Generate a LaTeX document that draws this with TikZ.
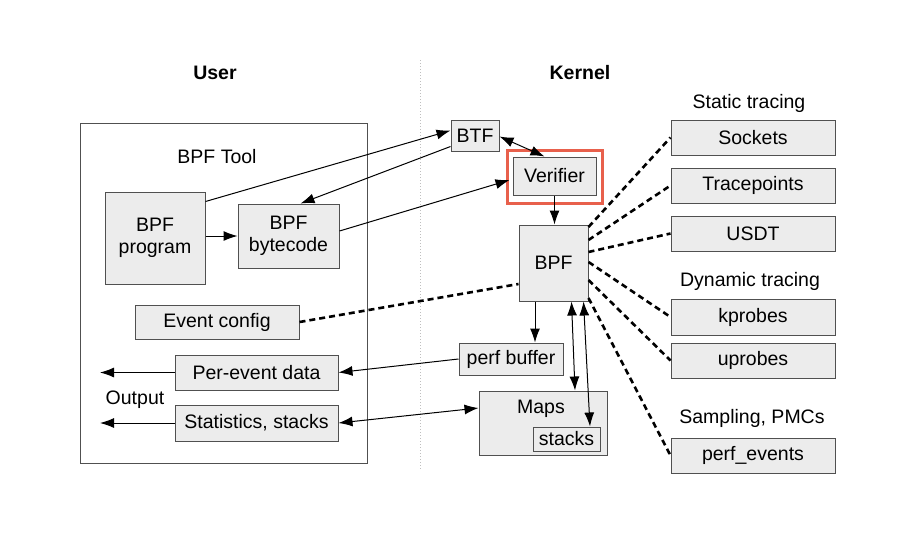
\documentclass[tikz,border=0pt]{standalone}
\usepackage{fontspec}
\setmainfont{Liberation Sans}
\usepackage{tikz}
\usetikzlibrary{arrows.meta}
\definecolor{boxgray}{HTML}{ECECEC}
\definecolor{edgegray}{HTML}{505050}
\definecolor{verired}{HTML}{E8604C}
\tikzstyle{boxed}=[draw=edgegray,fill=boxgray,line width=1pt,inner sep=0pt,align=center]
\tikzstyle{wh}=[minimum width=#1]
\tikzstyle{arr}=[-{Latex[length=14pt,width=10pt]},line width=1pt]
\tikzstyle{darr}=[{Latex[length=14pt,width=10pt]}-{Latex[length=14pt,width=10pt]},line width=1pt]
\tikzstyle{probe}=[dash pattern=on 6pt off 4pt,line width=2.6pt]
\newcommand{\bnode}{\node[boxed]}
\newcommand{\tnode}{\node}

\begin{document}
\begin{tikzpicture}[x=1pt,y=-1pt,font=\fontsize{19.5}{22}\selectfont]
        \useasboundingbox (0,0) rectangle (897,547);
        % user / kernel split
        \tnode[font=\fontsize{19.5}{22}\selectfont\bfseries] (user) at (215,73) {User};
        \tnode[font=\fontsize{19.5}{22}\selectfont\bfseries] (kern) at (580,73) {Kernel};
        \coordinate (div1) at (420,60);
        \coordinate (div2) at (420,470);
        \draw[gray!50,dotted,line width=1pt] (div1) -- (div2);
        \node[draw=edgegray,line width=1pt,minimum width=287pt,minimum height=340pt,inner sep=0pt] (tool) at (223.5,293) {};
        \tnode (tooll) at (217,157) {BPF Tool};
        % user side
        \bnode[wh=100pt,minimum height=92pt] (prog) at (155,238) {BPF\\program}; %
        \bnode[wh=101pt,minimum height=64pt] (bcode) at (288.5,236) {BPF\\bytecode}; %
        \bnode[wh=164pt,minimum height=34pt] (evcfg) at (217,322) {Event config}; %
        \bnode[wh=163pt,minimum height=35pt] (perev) at (256.5,372.5) {Per-event data};
        \bnode[wh=163pt,minimum height=36pt] (stats) at (256.5,423) {Statistics, stacks};
        \coordinate (out1) at (100,372.5);
        \coordinate (out2) at (100,423);
        \tnode (outl) at (135,400) {Output};
        % kernel side
        \bnode[wh=48pt,minimum height=31pt] (btf) at (475,135.5) {BTF};
        \node[draw=verired,line width=3pt,minimum width=95pt,minimum height=53pt,inner sep=0pt] (vbox) at (554.5,176.5) {};
        \bnode[wh=83pt,minimum height=38pt] (ver) at (554.5,176) {Verifier};
        \bnode[wh=69pt,minimum height=76pt] (bpf) at (553.5,263) {BPF};
        \bnode[wh=104pt,minimum height=32pt] (pbuf) at (511,359) {perf buffer};
        \bnode[wh=128pt,minimum height=64pt] (maps) at (543,423) {};
        \tnode (mapsl) at (541,409) {Maps};
        \bnode[wh=67pt,minimum height=24pt] (stk) at (566.5,439) {stacks};
        % event sources
        \tnode (statl) at (749,103) {Static tracing};
        \bnode[wh=164pt,minimum height=35pt] (sock) at (753,137.5) {Sockets};
        \bnode[wh=164pt,minimum height=35pt] (trace) at (753,185.5) {Tracepoints};
        \bnode[wh=164pt,minimum height=35pt] (usdt) at (753,233.5) {USDT};
        \tnode (dynl) at (750,281) {Dynamic tracing};
        \bnode[wh=164pt,minimum height=36pt] (kprb) at (753,317) {kprobes};
        \bnode[wh=164pt,minimum height=35pt] (uprb) at (753,360.5) {uprobes};
        \tnode (sampl) at (752,418) {Sampling, PMCs};
        \bnode[wh=164pt,minimum height=35pt] (pev) at (753,455.5) {perf\_events};
        % connectors
        \draw[arr] ([yshift=-10pt]prog.north east) -- ([yshift=5pt]btf.west);
        \draw[arr] ([yshift=5pt]btf.south west) -- ([xshift=12pt]bcode.north);
        \draw[arr] (prog.east |- bcode.west) -- (bcode.west);
        \draw[arr] ([yshift=5pt]bcode.east) -- ([yshift=-4pt,xshift=-3pt]ver.west);
        \draw[darr] ([yshift=-1pt]btf.east) -- ([xshift=-10pt]ver.north);
        \draw[arr] (ver.south) -- (ver.south |- bpf.north);
        \draw[arr] ([xshift=-18.5pt]bpf.south) -- ([xshift=-18.5pt]bpf.south |- pbuf.north);
        \draw[arr] (pbuf.west) -- (perev.east);
        \draw[darr] (stats.east) -- ([yshift=15pt]maps.west);
        \draw[darr] ([xshift=18pt]bpf.south) -- ([xshift=32pt]maps.north);
        \draw[darr] ([xshift=30pt]bpf.south) -- ([xshift=23.5pt]stk.north);
        \draw[arr] (perev.west) -- (out1);
        \draw[arr] (stats.west) -- (out2);
        \draw[probe] (evcfg.east) -- ([yshift=-21pt]bpf.west);
        \draw[probe] ([yshift=36pt]bpf.east) -- (sock.west);
        \draw[probe] ([yshift=23pt]bpf.east) -- (trace.west);
        \draw[probe] ([yshift=11pt]bpf.east) -- (usdt.west);
        \draw[probe] ([yshift=1pt]bpf.east) -- (kprb.west);
        \draw[probe] ([yshift=-17pt]bpf.east) -- (uprb.west);
        \draw[probe] ([yshift=-35pt]bpf.east) -- (pev.west);
      \end{tikzpicture}
\end{document}
